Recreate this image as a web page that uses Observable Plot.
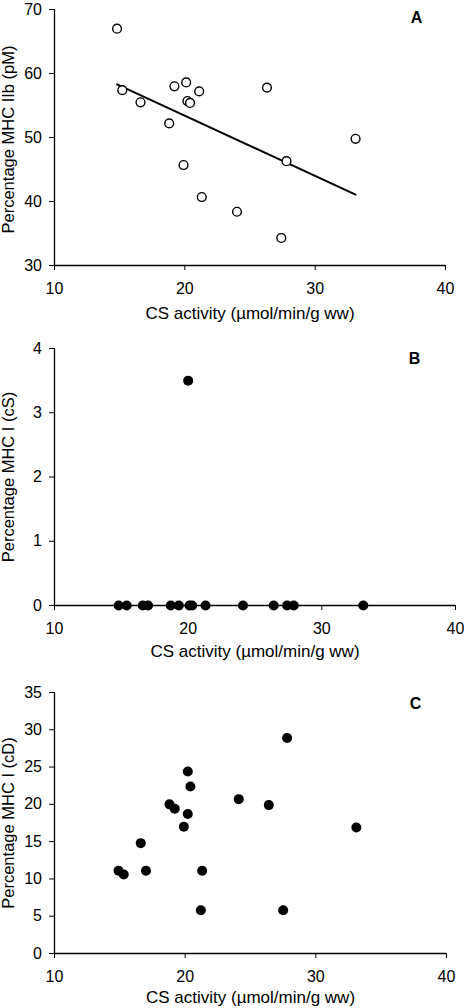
<!DOCTYPE html>
<html><head><meta charset="utf-8">
<script src="https://cdn.jsdelivr.net/npm/d3@7"></script>
<script src="https://cdn.jsdelivr.net/npm/@observablehq/plot@0.6"></script>
<style>
html,body{margin:0;padding:0;background:#fff}
body{width:464px;height:1008px;overflow:hidden;font-family:"Liberation Sans",Arial,sans-serif}
#chart svg{display:block}
</style></head><body><div id="chart"></div>
<script>
// Shared axis
const xLabel = "CS activity (µmol/min/g ww)";
const xTicks = [10, 20, 30, 40];

// Panel A: MHC IIb (pM), open circles + regression line
const csA = [14.8, 15.2, 16.6, 18.8, 19.2, 20.1, 19.9, 20.2, 20.4, 21.1, 21.3, 24.0, 26.3, 27.4, 27.8, 33.1];
const mhcIIb = [67.0, 57.4, 55.5, 52.2, 58.0, 58.6, 45.7, 55.7, 55.4, 57.2, 40.7, 38.4, 57.8, 34.3, 46.3, 49.8];
const yTicksA = [30, 40, 50, 60, 70];
const yLabelA = "Percentage MHC IIb (pM)";

// Panel B: MHC I (cS)
const csB = [14.8, 15.4, 16.6, 17.0, 18.7, 19.3, 20.0, 20.1, 20.3, 21.3, 24.1, 26.4, 27.4, 27.9, 33.1];
const mhcIcS = [0, 0, 0, 0, 0, 0, 3.5, 0, 0, 0, 0, 0, 0, 0, 0];
const yTicksB = [0, 1, 2, 3, 4];
const yLabelB = "Percentage MHC I (cS)";

// Panel C: MHC I (cD)
const csC = [14.9, 15.3, 16.6, 17.0, 18.8, 19.2, 19.9, 20.2, 20.2, 20.4, 21.2, 21.3, 24.1, 26.4, 27.5, 27.8, 33.1];
const mhcIcD = [11.1, 10.6, 14.8, 11.1, 20.0, 19.4, 17.0, 24.4, 18.7, 22.4, 5.8, 11.1, 20.7, 19.9, 5.8, 28.9, 16.9];
const yTicksC = [0, 5, 10, 15, 20, 25, 30, 35];
const yLabelC = "Percentage MHC I (cD)";

const panelLetters = ["A", "B", "C"];

function panel(o) {
  const data = o.xs.map((x, i) => ({x, y: o.ys[i]}));
  const txt = {fill: "black", text: d => d, textAnchor: "middle", lineAnchor: "middle"};
  const marks = [
    Plot.ruleX([xTicks[0]], {stroke: "black", strokeWidth: 1.3}),
    Plot.ruleY([o.yTicks[0]], {stroke: "black", strokeWidth: 1.3}),
    Plot.axisX({ticks: xTicks, tickSize: 5, tickPadding: 12, fontSize: 16, label: null, tickFormat: d => String(d)}),
    Plot.axisY({ticks: o.yTicks, tickSize: 5, tickPadding: 7.5, fontSize: 16, label: null, tickFormat: d => String(d)}),
    Plot.text([xLabel], {...txt, fontSize: 17, frameAnchor: "bottom", dy: o.xTitleDy}),
    Plot.text([o.yLabel], {...txt, fontSize: 16.5, frameAnchor: "left", rotate: -90, dx: -46, dy: o.yTitleDy}),
    Plot.text([o.letter], {...txt, fontSize: 16, frameAnchor: "top-right", dx: o.letterDx, dy: o.letterDy, fontWeight: "bold"})
  ];
  if (o.fit) marks.push(Plot.linearRegressionY(data, {x: "x", y: "y", ci: 0, stroke: "black", strokeWidth: 2}));
  if (o.open) marks.push(Plot.dot(data, {x: "x", y: "y", r: 4.4, stroke: "black", strokeWidth: 1.4, fill: "white"}));
  else marks.push(Plot.dot(data, {x: "x", y: "y", r: 5, fill: "black", stroke: "none"}));
  return Plot.plot({
    width: 464,
    height: o.height,
    marginTop: o.marginTop,
    marginBottom: o.marginBottom,
    marginLeft: 54,
    marginRight: o.marginRight,
    style: {fontFamily: "'Liberation Sans', Arial, sans-serif", fontSize: "16px", color: "black", background: "white", overflow: "visible"},
    x: {domain: [xTicks[0], xTicks[xTicks.length - 1]]},
    y: {domain: [o.yTicks[0], o.yTicks[o.yTicks.length - 1]]},
    marks
  });
}

const root = document.getElementById("chart");
root.append(panel({xs: csA, ys: mhcIIb, yTicks: yTicksA, yLabel: yLabelA, letter: panelLetters[0], open: true, fit: true,
  height: 330, marginTop: 9, marginBottom: 65, marginRight: 19, xTitleDy: 48, yTitleDy: 2, letterDx: -29, letterDy: 8}));
root.append(panel({xs: csB, ys: mhcIcS, yTicks: yTicksB, yLabel: yLabelB, letter: panelLetters[1], open: false, fit: false,
  height: 330, marginTop: 18, marginBottom: 55, marginRight: 9, xTitleDy: 46, yTitleDy: 0, letterDx: -41, letterDy: 10}));
root.append(panel({xs: csC, ys: mhcIcD, yTicks: yTicksC, yLabel: yLabelC, letter: panelLetters[2], open: false, fit: false,
  height: 348, marginTop: 32, marginBottom: 55, marginRight: 18, xTitleDy: 44, yTitleDy: 0, letterDx: -31, letterDy: 11}));
</script></body></html>
